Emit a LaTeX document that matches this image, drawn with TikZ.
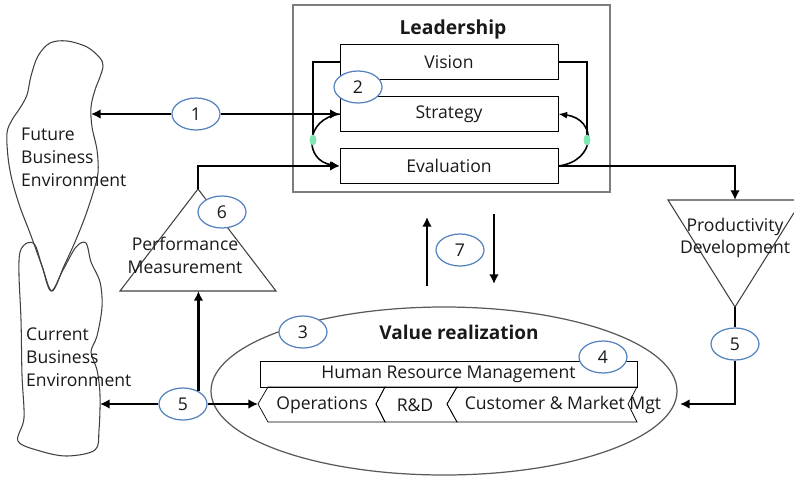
\documentclass[tikz,border=0pt]{standalone}
\usepackage{fontspec}
\setmainfont{Open Sans}
\usetikzlibrary{arrows.meta,shapes.geometric}

\definecolor{numblue}{RGB}{84,130,190}
\definecolor{mint}{RGB}{128,232,180}
\definecolor{framegray}{RGB}{125,125,125}

\begin{document}
\begin{tikzpicture}[x=0.02cm,y=-0.02cm,
    font=\fontsize{10}{13}\selectfont, text=black!90,
    box/.style={draw,minimum width=4.36cm,minimum height=0.7cm,inner sep=0pt},
    num/.style={ellipse,draw=numblue,fill=white,line width=0.7pt,
      minimum width=0.96cm,minimum height=0.64cm,inner sep=0pt},
    flow/.style={line width=1.6pt,-{Latex[length=5.5pt,width=5.5pt]}},
    fb/.style={line width=0.9pt},
    outline/.style={draw=black!75,line width=0.6pt}]

    \useasboundingbox (0,0) rectangle (794,477);

    % future environment
    \draw[outline] plot[smooth cycle,tension=0.55] coordinates {
      (67,41) (87,47) (100,58) (103,66) (100,77) (95,90) (91,107) (92,127)
      (97,150) (98,173) (93,193) (85,217) (75,242) (64,266) (52,291)
      (42,266) (30,233) (20,207) (12,180) (8,157) (7,133) (12,120) (20,108)
      (27,95) (31,76) (38,56) (50,43)};
    \node[align=left,anchor=west] (futtxt) at (15,157) {Future\\Business\\Environment};

    % current environment
    \draw[outline] plot[smooth cycle,tension=0.55] coordinates {
      (20,252) (27,243) (35,245) (42,266) (51,291) (63,270) (76,247) (86,243)
      (91,262) (100,282) (102,307) (97,336) (91,352) (97,370) (100,395)
      (99,430) (95,450) (67,456) (40,451) (18,441) (24,418) (22,375)
      (21,320) (19,275)};
    \node[align=left,anchor=west] (curtxt) at (20,357) {Current\\Business\\Environment};

    % leadership
    \draw[framegray,line width=1.2pt] (293,5) rectangle (610,192);
    \node[font=\fontsize{11}{13}\selectfont\bfseries] (lead) at (453,29) {Leadership};
    \node[box] (vision) at (449,62) {Vision};
    \node[box] (strategy) at (449,114) {Strategy};
    \node[box] (evaluation) at (449,166) {Evaluation};

    % feedback loops
    \coordinate (lg) at (313,140);
    \coordinate (rg) at (587,140);
    \draw[fb] (vision.west) -| (lg);
    \draw[fb] (vision.east) -| (rg);
    \draw[fb,-{Latex[length=5pt,width=4pt]}] (strategy.west)
      .. controls (304,119) and (304,161) .. (evaluation.west);
    \draw[fb,-{Latex[length=5pt,width=4pt]}] (evaluation.east)
      .. controls (597,161) and (597,119) .. (strategy.east);
    \fill[mint] (lg) ellipse [x radius=3.5,y radius=5.5];
    \fill[mint] (rg) ellipse [x radius=3.5,y radius=5.5];

    \node[num] (n1) at (196,114) {1};
    \coordinate (fut) at (91,114);
    \draw[flow] (n1) -- (fut);
    \draw[flow] (n1) -- (strategy.west);
    \node[num] (n2) at (358,87) {2};

    % performance measurement
    \coordinate (pmtop) at (198,189);
    \draw[outline] (120,291) -- (pmtop) -- (276,291) -- cycle;
    \node[align=center] (pmtxt) at (185,255) {Performance\\Measurement};
    \draw[flow] (pmtop) |- (evaluation.west);
    \node[num] (n6) at (222,212) {6};

    % productivity development
    \coordinate (pdtop) at (735,200);
    \coordinate (pdbot) at (735,307);
    \draw[outline] (668,200) -- (802,200) -- (pdbot) -- cycle;
    \node[align=center] (pdtxt) at (735,238) {Productivity\\Development};
    \draw[flow] (evaluation.east) -| (pdtop);
    \node[num] (n5b) at (735,344) {5};
    \coordinate (vrend) at (680,404);
    \draw[line width=1.6pt] (pdbot) -- (n5b);
    \draw[flow] (n5b) |- (vrend);

    % up and down
    \node[num] (n7) at (460,250) {7};
    \coordinate (up1) at (427,286);
    \coordinate (up2) at (427,217);
    \coordinate (dn1) at (494,214);
    \coordinate (dn2) at (494,284);
    \draw[flow] (up1) -- (up2);
    \draw[flow] (dn1) -- (dn2);

    % value realization
    \draw[draw=black!65,line width=0.7pt] (444,391) ellipse [x radius=233,y radius=84];
    \node[font=\fontsize{10.8}{13}\selectfont\bfseries] (vrtxt) at (459,332) {Value realization};
    \node[draw,minimum width=7.54cm,minimum height=0.52cm,inner sep=0pt] (hrm)
      at (448.5,374) {Human Resource Management};
    \draw (268,387) -- (385,387) -- (376,404) -- (385,422) -- (268,422) -- (258,404) -- cycle;
    \draw (385,387) -- (457,387) -- (447,404) -- (457,422) -- (385,422) -- (376,404) -- cycle;
    \draw (457,387) -- (637,387) -- (628,404) -- (637,422) -- (457,422) -- (447,404) -- cycle;
    \node (ops) at (322,405) {Operations};
    \node (rnd) at (415,405) {R\&D};
    \node (cmm) at (563,405) {Customer \& Market Mgt};
    \node[num] (n3) at (303,332) {3};
    \node[num] (n4) at (603,357) {4};

    \node[num] (n5a) at (183,404) {5};
    \coordinate (cur) at (100,404);
    \coordinate (opstip) at (258,404);
    \coordinate (pmbase) at (197,291);
    \draw[flow] (n5a) -- (cur);
    \draw[flow] (n5a) -- (opstip);
    \draw[flow] (n5a.40) -- (n5a.40 |- pmbase);

\end{tikzpicture}
\end{document}
